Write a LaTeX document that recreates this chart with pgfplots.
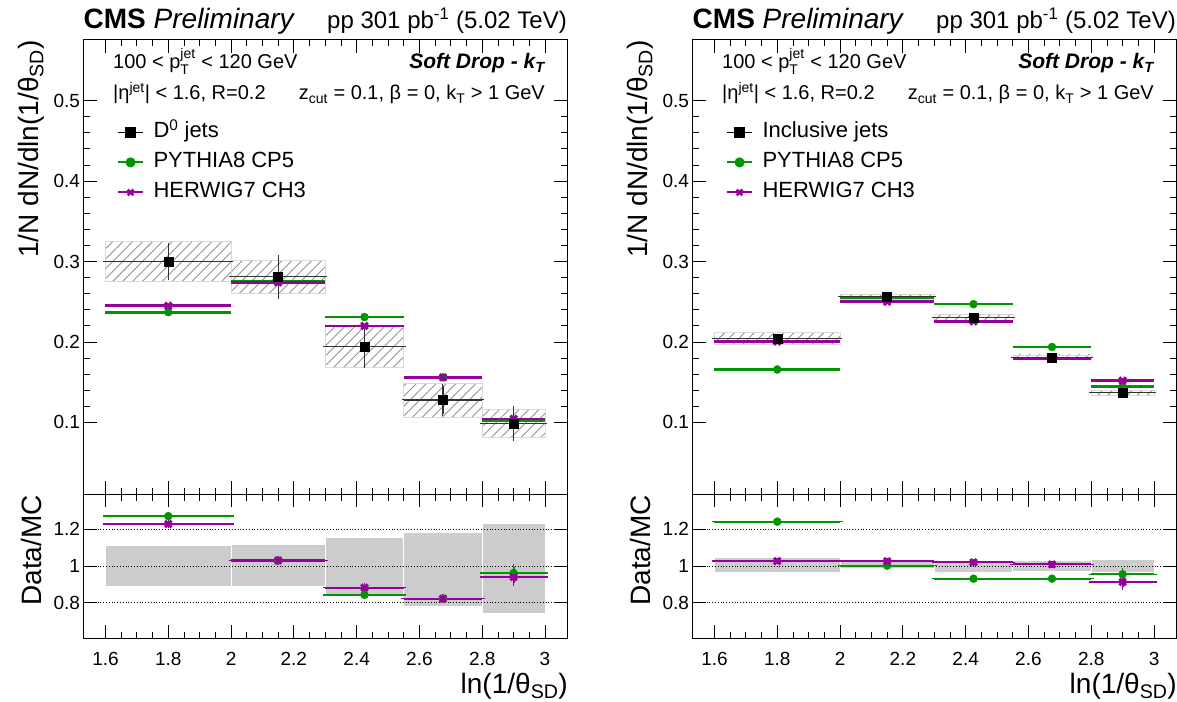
\documentclass[border=0pt]{standalone}
\usepackage{amsmath}
\usepackage{fontspec}
\setmainfont{Liberation Sans}
\usepackage{pgfplots}
\pgfplotsset{compat=1.18}
\usepackage{pgfplotstable}
\usetikzlibrary{patterns.meta}
\definecolor{pgreen}{RGB}{0,150,0}
\definecolor{hmag}{RGB}{150,0,155}
\newcommand{\fs}[1]{\fontsize{#1}{#1}\selectfont}

% ---------- left: D0 jets ----------
\pgfplotstableread{
x     ex     y      stat   py      hw
1.8   0.2    0.300  0.021  0.237   0.245
2.15  0.15   0.281  0.025  0.276   0.274
2.425 0.125  0.194  0.024  0.231   0.220
2.675 0.125  0.128  0.017  0.156   0.156
2.9   0.1    0.099  0.019  0.1025  0.1045
}\Lmain
\pgfplotstableread{
x     ex     rp     erp    rh     erh
1.8   0.2    1.272  0.01   1.229  0.01
2.15  0.15   1.030  0.01   1.030  0.01
2.425 0.125  0.843  0.01   0.882  0.01
2.675 0.125  0.822  0.01   0.822  0.01
2.9   0.1    0.962  0.035  0.940  0.035
}\Lratio
% ---------- right: inclusive jets ----------
\pgfplotstableread{
x     ex     y      stat   py      hw
1.8   0.2    0.2042 0.002  0.1658  0.2005
2.15  0.15   0.2562 0.002  0.2545  0.2500
2.425 0.125  0.2305 0.002  0.2470  0.2256
2.675 0.125  0.1810 0.002  0.1938  0.1790
2.9   0.1    0.1373 0.002  0.1447  0.1520
}\Rmain
\pgfplotstableread{
x     ex     rp     erp    rh     erh
1.8   0.2    1.242  0.005  1.027  0.005
2.15  0.15   1.002  0.005  1.026  0.005
2.425 0.125  0.931  0.005  1.020  0.005
2.675 0.125  0.931  0.005  1.009  0.005
2.9   0.1    0.955  0.02   0.913  0.03
}\Rratio

\pgfplotsset{
  cmsaxis/.style={
    scale only axis, width=483.5pt,
    xmin=1.53, xmax=3.07,
    axis line style={line width=1pt},
    every tick/.style={black, line width=0.8pt},
    major tick length=13pt, minor tick length=6.5pt,
    tick align=inside,
    xtick={1.6,1.8,2,2.2,2.4,2.6,2.8,3},
    minor x tick num=3,
    /pgf/number format/assume math mode=true,
    ticklabel style={font=\fs{19}},
  },
  cmsmain/.style={cmsaxis, height=454.3pt,
    ymin=0.0107, ymax=0.5753,
    ytick={0.1,0.2,0.3,0.4,0.5}, minor y tick num=4,
    xticklabels={},
    yticklabel style={/pgf/number format/fixed, /pgf/number format/precision=1},
    legend style={at={(0.069,0.83)}, anchor=north west, draw=none, fill=none,
      inner sep=0pt, font=\fs{22}, cells={anchor=west}, column sep=5pt,
      nodes={inner sep=4.5pt, text height=16pt, text depth=5pt}},
    legend image code/.code={\draw[mark repeat=2,mark phase=2,##1] plot coordinates {(0pt,0pt) (12.5pt,0pt) (25pt,0pt)};},
  },
  cmsratio/.style={cmsaxis, height=144pt,
    ymin=0.606, ymax=1.391,
    ytick={0.8,1,1.2},
    xticklabel shift=10pt,
    xticklabel style={/pgf/number format/fixed, /pgf/number format/precision=1},
  },
  hatch/.style={draw=gray!30, line width=0.5pt, pattern={Lines[angle=45,distance=7pt,line width=0.9pt]}, pattern color=gray!85, forget plot},
  rbox/.style={fill=gray!40, draw=white, line width=1pt, forget plot},
  dline/.style={black, dotted, line width=0.8pt, forget plot},
  gmod/.style={pgreen, only marks, mark=*, mark size=4pt, forget plot,
    error bars/x dir=both, error bars/x explicit, error bars/error mark=none,
    error bars/error bar style={line width=2.6pt, pgreen}},
  hmod/.style={hmag, only marks, mark=x, mark size=4.6pt, mark options={line width=3pt}, forget plot,
    error bars/x dir=both, error bars/x explicit, error bars/error mark=none,
    error bars/error bar style={line width=2.6pt, hmag}},
  gmodr/.style={pgreen, only marks, mark=*, mark size=4pt, forget plot,
    error bars/x dir=both, error bars/x explicit, error bars/y dir=both, error bars/y explicit,
    error bars/error mark options={line width=1.5pt, mark size=2.5pt, pgreen},
    error bars/error bar style={line width=2.2pt, pgreen}},
  hmodr/.style={hmag, only marks, mark=x, mark size=4.6pt, mark options={line width=3pt}, forget plot,
    error bars/x dir=both, error bars/x explicit, error bars/y dir=both, error bars/y explicit,
    error bars/error mark options={line width=1.5pt, mark size=2.5pt, hmag},
    error bars/error bar style={line width=2.2pt, hmag}},
  dat/.style={black, only marks, mark=square*, mark size=4.5pt, forget plot,
    error bars/x dir=both, error bars/x explicit, error bars/y dir=both, error bars/y explicit,
    error bars/error mark options={line width=1pt, mark size=2pt, black!80},
    error bars/error bar style={line width=1.2pt, black!80}},
}

\begin{document}
\begin{tikzpicture}[x=1pt,y=1pt]
\path[use as bounding box] (0,0) rectangle (1177,701);

% ================= LEFT MAIN =================
\begin{axis}[cmsmain, at={(83.5pt,206.7pt)}, anchor=south west]
\addlegendimage{black, line width=1.2pt, mark=square*, mark size=4.5pt}
\addlegendimage{pgreen, line width=2pt, mark=*, mark size=4pt}
\addlegendimage{hmag, line width=2pt, mark=x, mark size=4pt, mark options={line width=2.5pt}}
\legend{D$^{\text{0}}$ jets, PYTHIA8 CP5, HERWIG7 CH3}
\addplot[hatch] coordinates {(1.6,0.275) (2.0,0.275) (2.0,0.325) (1.6,0.325)} -- cycle;
\addplot[hatch] coordinates {(2.0,0.261) (2.3,0.261) (2.3,0.301) (2.0,0.301)} -- cycle;
\addplot[hatch] coordinates {(2.3,0.168) (2.55,0.168) (2.55,0.220) (2.3,0.220)} -- cycle;
\addplot[hatch] coordinates {(2.55,0.107) (2.8,0.107) (2.8,0.149) (2.55,0.149)} -- cycle;
\addplot[hatch] coordinates {(2.8,0.082) (3.0,0.082) (3.0,0.116) (2.8,0.116)} -- cycle;
\addplot[gmod] table[x=x, y=py, x error=ex] {\Lmain};
\addplot[hmod] table[x=x, y=hw, x error=ex] {\Lmain};
\addplot[dat] table[x=x, y=y, x error=ex, y error=stat] {\Lmain};
\end{axis}

% ================= LEFT RATIO =================
\begin{axis}[cmsratio, at={(83.5pt,62.7pt)}, anchor=south west]
\addplot[rbox] coordinates {(1.6,0.891) (2.0,0.891) (2.0,1.113) (1.6,1.113)} -- cycle;
\addplot[rbox] coordinates {(2.0,0.891) (2.3,0.891) (2.3,1.118) (2.0,1.118)} -- cycle;
\addplot[rbox] coordinates {(2.3,0.845) (2.55,0.845) (2.55,1.155) (2.3,1.155)} -- cycle;
\addplot[rbox] coordinates {(2.55,0.782) (2.8,0.782) (2.8,1.182) (2.55,1.182)} -- cycle;
\addplot[rbox] coordinates {(2.8,0.742) (3.0,0.742) (3.0,1.233) (2.8,1.233)} -- cycle;
\addplot[dline] coordinates {(1.53,0.8) (3.07,0.8)};
\addplot[dline] coordinates {(1.53,1.0) (3.07,1.0)};
\addplot[dline] coordinates {(1.53,1.2) (3.07,1.2)};
\addplot[gmodr] table[x=x, y=rp, x error=ex, y error=erp] {\Lratio};
\addplot[hmodr] table[x=x, y=rh, x error=ex, y error=erh] {\Lratio};
\end{axis}

% ================= RIGHT MAIN =================
\begin{axis}[cmsmain, at={(692.5pt,206.7pt)}, anchor=south west]
\addlegendimage{black, line width=1.2pt, mark=square*, mark size=4.5pt}
\addlegendimage{pgreen, line width=2pt, mark=*, mark size=4pt}
\addlegendimage{hmag, line width=2pt, mark=x, mark size=4pt, mark options={line width=2.5pt}}
\legend{Inclusive jets, PYTHIA8 CP5, HERWIG7 CH3}
\addplot[hatch] coordinates {(1.6,0.1967) (2.0,0.1967) (2.0,0.2117) (1.6,0.2117)} -- cycle;
\addplot[hatch] coordinates {(2.0,0.2532) (2.3,0.2532) (2.3,0.2592) (2.0,0.2592)} -- cycle;
\addplot[hatch] coordinates {(2.3,0.2265) (2.55,0.2265) (2.55,0.2345) (2.3,0.2345)} -- cycle;
\addplot[hatch] coordinates {(2.55,0.178) (2.8,0.178) (2.8,0.184) (2.55,0.184)} -- cycle;
\addplot[hatch] coordinates {(2.8,0.1343) (3.0,0.1343) (3.0,0.1403) (2.8,0.1403)} -- cycle;
\addplot[gmod] table[x=x, y=py, x error=ex] {\Rmain};
\addplot[hmod] table[x=x, y=hw, x error=ex] {\Rmain};
\addplot[dat] table[x=x, y=y, x error=ex, y error=stat] {\Rmain};
\end{axis}

% ================= RIGHT RATIO =================
\begin{axis}[cmsratio, at={(692.5pt,62.7pt)}, anchor=south west]
\addplot[rbox] coordinates {(1.6,0.964) (2.0,0.964) (2.0,1.046) (1.6,1.046)} -- cycle;
\addplot[rbox] coordinates {(2.0,0.985) (2.3,0.985) (2.3,1.030) (2.0,1.030)} -- cycle;
\addplot[rbox] coordinates {(2.3,0.965) (2.55,0.965) (2.55,1.030) (2.3,1.030)} -- cycle;
\addplot[rbox] coordinates {(2.55,0.970) (2.8,0.970) (2.8,1.030) (2.55,1.030)} -- cycle;
\addplot[rbox] coordinates {(2.8,0.965) (3.0,0.965) (3.0,1.035) (2.8,1.035)} -- cycle;
\addplot[dline] coordinates {(1.53,0.8) (3.07,0.8)};
\addplot[dline] coordinates {(1.53,1.0) (3.07,1.0)};
\addplot[dline] coordinates {(1.53,1.2) (3.07,1.2)};
\addplot[gmodr] table[x=x, y=rp, x error=ex, y error=erp] {\Rratio};
\addplot[hmodr] table[x=x, y=rh, x error=ex, y error=erh] {\Rratio};
\end{axis}

% ================= TEXT =================
\foreach \dx in {0,609} {
  \node[anchor=base west, inner sep=0pt, font=\fs{28}] at (83.5+\dx,672) {\textbf{CMS} \textit{Preliminary}};
  \node[anchor=base east, inner sep=0pt, font=\fs{24}] at (567+\dx,672) {pp 301 pb$^{\text{-1}}$ (5.02 TeV)};
  \node[anchor=base west, inner sep=0pt, font=\fs{20}] at (113+\dx,632) {100 < p$^{\text{jet}}_{\text{T}}$ < 120 GeV};
  \node[anchor=base west, inner sep=0pt, font=\fs{20}] at (113+\dx,601) {|η$^{\text{jet}}$| < 1.6, R=0.2};
  \node[anchor=base east, inner sep=0pt, font=\fs{21}] at (545+\dx,632) {\textbf{\textit{Soft Drop - k$_{\text{T}}$}}};
  \node[anchor=base east, inner sep=0pt, font=\fs{20}] at (545+\dx,601) {z$_{\text{cut}}$ = 0.1, β = 0, k$_{\text{T}}$ > 1 GeV};
  \node[rotate=90, anchor=east, inner sep=0pt, font=\fs{28}] at (31+\dx,661) {1/N dN/dln(1/θ$_{\text{SD}}$)};
  \node[rotate=90, anchor=east, inner sep=0pt, font=\fs{28}] at (31+\dx,206) {Data/MC};
  \node[anchor=base east, inner sep=0pt, font=\fs{28}] at (568+\dx,8) {ln(1/θ$_{\text{SD}}$)};
}
\end{tikzpicture}
\end{document}
